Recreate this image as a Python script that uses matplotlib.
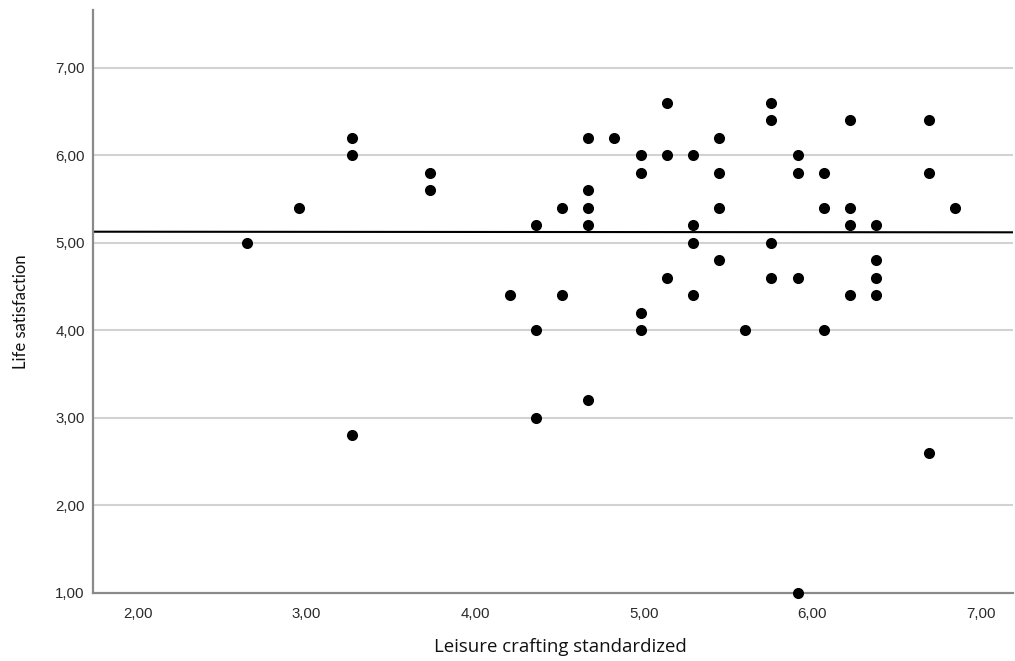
import numpy as np
import matplotlib.pyplot as plt
from matplotlib.ticker import FuncFormatter

# leisure crafting score per column and the life-satisfaction values stacked at it
crafting_levels = [2.646, 2.954, 3.268, 3.731, 4.205, 4.359, 4.513, 4.667, 4.821, 4.982,
                   5.136, 5.290, 5.444, 5.598, 5.757, 5.912, 6.067, 6.222, 6.376, 6.689, 6.844]
satisfaction = [
    [5.0],
    [5.4],
    [6.2, 6.0, 2.8],
    [5.8, 5.6],
    [4.4],
    [5.2, 4.0, 3.0],
    [5.4, 4.4],
    [6.2, 5.6, 5.4, 5.2, 3.2],
    [6.2],
    [6.0, 5.8, 4.2, 4.0],
    [6.6, 6.0, 4.6],
    [6.0, 5.2, 5.0, 4.4],
    [6.2, 5.8, 5.4, 4.8],
    [4.0],
    [6.6, 6.4, 5.0, 4.6],
    [6.0, 5.8, 4.6, 1.0],
    [5.8, 5.4, 4.0],
    [6.4, 5.4, 5.2, 4.4],
    [5.2, 4.8, 4.6, 4.4],
    [6.4, 5.8, 2.6],
    [5.4],
]
# total fit line (linear)
fit_intercept = 5.1312
fit_slope = -0.00128

x_ticks = [2, 3, 4, 5, 6, 7]
y_ticks = [1, 2, 3, 4, 5, 6, 7]

x = np.array([lv for lv, ys in zip(crafting_levels, satisfaction) for _ in ys])
y = np.array([v for ys in satisfaction for v in ys])

fig = plt.figure(figsize=(10.15, 6.61), dpi=100)
ax = fig.add_axes([0.0916, 0.1029, 0.9064, 0.882])

xlim = (1.733, 7.19)
ax.set_xlim(*xlim)
ax.set_ylim(1.0, 7.663)

for t in y_ticks[1:]:
    ax.axhline(t, color='#d2d2d2', lw=1.5, zorder=1)

xs = np.array(xlim)
ax.plot(xs, fit_intercept + fit_slope * xs, color='black', lw=1.5, zorder=2)

ax.scatter(x, y, s=64, color='black', zorder=3, clip_on=False, linewidths=0)

ax.set_xticks(x_ticks)
ax.set_yticks(y_ticks)
fmt = FuncFormatter(lambda v, p: f"{v:.2f}".replace('.', ','))
ax.xaxis.set_major_formatter(fmt)
ax.yaxis.set_major_formatter(fmt)
ax.tick_params(length=0, labelsize=10.8, colors='#2a2a2a')
ax.tick_params(axis='x', pad=10)
ax.tick_params(axis='y', pad=6)
for lab in ax.get_xticklabels() + ax.get_yticklabels():
    lab.set_family('Liberation Sans')

for side in ['top', 'right']:
    ax.spines[side].set_visible(False)
for side in ['left', 'bottom']:
    ax.spines[side].set_color('#8a8a8a')
    ax.spines[side].set_linewidth(1.6)

ax.set_xlabel('Leisure crafting standardized', family='Open Sans', fontsize=13.4, color='#111111')
ax.xaxis.set_label_coords(0.5076, -0.0926)
ax.xaxis.label.set_va('center')

ax.set_ylabel('Life satisfaction', family='Lato', fontsize=12, color='#111111')
ax.yaxis.set_label_coords(-0.0777, 0.4828)
ax.yaxis.label.set_va('center')
ax.yaxis.label.set_ha('center')

fig.savefig('out.png', dpi=100)
